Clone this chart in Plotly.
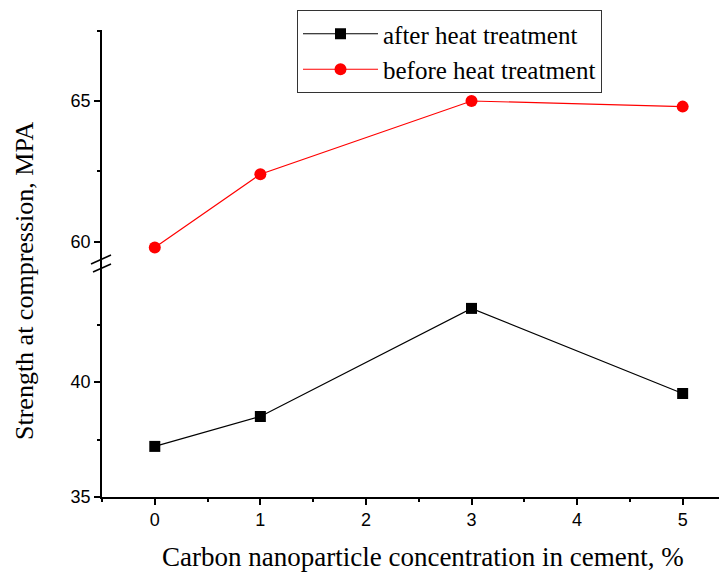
import plotly.graph_objects as go

conc = [0, 1, 3, 5]
after_heat = [37.2, 38.5, 43.2, 39.5]
before_heat = [59.8, 62.4, 65.0, 64.8]

OFF = 8  # page body margin
W, H = 727 - OFF, 572 - OFF
L, R, T, B = 102 - OFF, 0, 30 - OFF, 75
pw, ph = W - L - R, H - T - B
bottom_px = 497
brk = 264  # image pixel y of axis break

def px_x(p):
    return (p - OFF - L) / pw

def px_y(p):
    return (bottom_px - p) / ph

yb = px_y(brk)

fig = go.Figure()
fig.add_trace(go.Scatter(x=conc, y=after_heat, name="after heat treatment",
                         mode="lines+markers", yaxis="y",
                         line=dict(color="black", width=1.2),
                         marker=dict(symbol="square", size=11, color="black")))
fig.add_trace(go.Scatter(x=conc, y=before_heat, name="before heat treatment",
                         mode="lines+markers", yaxis="y2",
                         line=dict(color="red", width=1.2),
                         marker=dict(symbol="circle", size=12, color="red")))

tickfont = dict(family="Liberation Sans, Arial", size=18, color="black")
axcommon = dict(showline=True, linecolor="black", linewidth=1.5, ticks="outside",
                ticklen=6, tickwidth=1.5, tickcolor="black", showgrid=False,
                zeroline=False, tickfont=tickfont)
minor_common = dict(ticklen=3, tickwidth=1.5, tickcolor="black", ticks="outside", showgrid=False)

fig.update_layout(
    width=W, height=H,
    margin=dict(l=L, r=R, t=T, b=B),
    plot_bgcolor="white", paper_bgcolor="white",
    xaxis=dict(range=[-0.5, 5.42], tickmode="array", tickvals=[0, 1, 2, 3, 4, 5],
               minor=dict(tickmode="array", tickvals=[-0.5, 0.5, 1.5, 2.5, 3.5, 4.5], **minor_common),
               **axcommon),
    yaxis=dict(domain=[0, yb], range=[35, 35 + (bottom_px - brk) / 23.0],
               tickmode="array", tickvals=[35, 40],
               minor=dict(tickmode="array", tickvals=[37.5, 42.5], **minor_common),
               **axcommon),
    yaxis2=dict(domain=[yb, 1], range=[60 - (brk - 241.7) / 28.33, 67.52], anchor="x",
                tickmode="array", tickvals=[60, 65],
                minor=dict(tickmode="array", tickvals=[62.5, 67.5], **minor_common),
                **axcommon),
    showlegend=True,
    legend=dict(x=px_x(297), y=1 + (30 - 10) / ph, xanchor="left", yanchor="top",
                bordercolor="#333", borderwidth=1, bgcolor="white",
                font=dict(family="Liberation Serif, Times New Roman", size=25, color="black"),
                tracegroupgap=0, itemwidth=75),
    font=dict(family="Liberation Serif", color="black"),
)

fig.add_annotation(text="Strength at compression, MPA", xref="paper", yref="paper",
                   x=px_x(24), y=px_y(281), xanchor="center", yanchor="middle",
                   textangle=-90, showarrow=False,
                   font=dict(family="Liberation Serif, Times New Roman", size=26, color="black"))
fig.add_annotation(text="Carbon nanoparticle concentration in cement, %", xref="paper", yref="paper",
                   x=px_x(423), y=px_y(557), xanchor="center", yanchor="middle", showarrow=False,
                   font=dict(family="Liberation Serif, Times New Roman", size=27, color="black"))

for (x0, y0, x1, y1) in [(91, 264, 111, 255), (93, 272, 111, 264)]:
    fig.add_shape(type="line", xref="paper", yref="paper",
                  x0=px_x(x0), y0=px_y(y0), x1=px_x(x1), y1=px_y(y1),
                  line=dict(color="black", width=1.5))

fig.write_html("out.html")
